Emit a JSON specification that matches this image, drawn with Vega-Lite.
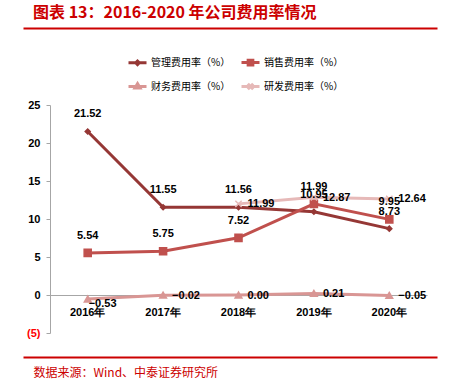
{
  "$schema": "https://vega.github.io/schema/vega-lite/v6.json",
  "background": "white",
  "padding": {"left": 23, "top": 4, "right": 18, "bottom": 4},
  "width": 414,
  "height": 228,
  "config": {
    "view": {"stroke": null},
    "font": "Liberation Sans Narrow, Liberation Sans"
  },
  "title": {"text": "图表 13：2016-2020 年公司费用率情况", "anchor": "start", "dx": 10, "offset": 4, "color": "#CC0000", "fontSize": 16, "font": "Noto Sans CJK SC", "fontWeight": "bold"},
  "data": {
    "values": [
      {"year": "2016年", "series": "管理费用率（%）", "value": 21.52},
      {"year": "2017年", "series": "管理费用率（%）", "value": 11.55},
      {"year": "2018年", "series": "管理费用率（%）", "value": 11.56},
      {"year": "2019年", "series": "管理费用率（%）", "value": 10.95},
      {"year": "2020年", "series": "管理费用率（%）", "value": 8.73},
      {"year": "2016年", "series": "销售费用率（%）", "value": 5.54},
      {"year": "2017年", "series": "销售费用率（%）", "value": 5.75},
      {"year": "2018年", "series": "销售费用率（%）", "value": 7.52},
      {"year": "2019年", "series": "销售费用率（%）", "value": 11.99},
      {"year": "2020年", "series": "销售费用率（%）", "value": 9.95},
      {"year": "2016年", "series": "财务费用率（%）", "value": -0.53},
      {"year": "2017年", "series": "财务费用率（%）", "value": -0.02},
      {"year": "2018年", "series": "财务费用率（%）", "value": 0.0},
      {"year": "2019年", "series": "财务费用率（%）", "value": 0.21},
      {"year": "2020年", "series": "财务费用率（%）", "value": -0.05},
      {"year": "2018年", "series": "研发费用率（%）", "value": 11.99},
      {"year": "2019年", "series": "研发费用率（%）", "value": 12.87},
      {"year": "2020年", "series": "研发费用率（%）", "value": 12.64}
    ]
  },
  "encoding": {
    "y": {
      "field": "value", "type": "quantitative",
      "scale": {"domain": [-5, 25], "nice": false},
      "axis": {"title": null, "values": [-5, 0, 5, 10, 15, 20, 25], "offset": -27, "tickSize": 4, "tickColor": "#A6A6A6", "domainColor": "#A6A6A6", "grid": false,
        "labelExpr": "datum.value < 0 ? '(' + abs(datum.value) + ')' : datum.label",
        "labelColor": {"condition": {"test": "datum.value < 0", "value": "#FF0000"}, "value": "#000000"},
        "labelFontSize": 11, "labelFontWeight": "bold", "labelPadding": 6}
    }
  },
  "resolve": {"scale": {"x": "independent"}, "axis": {"x": "independent"}},
  "layer": [
    {
      "mark": {"type": "line", "strokeWidth": 3},
      "encoding": {
        "x": {"field": "year", "type": "ordinal", "sort": null, "bandPosition": 0.5,
          "scale": {"type": "band", "domain": ["2016年", "2017年", "2018年", "2019年", "2020年"], "range": [27, 404], "paddingInner": 0, "paddingOuter": 0},
          "axis": {"title": null, "labelAngle": 0, "domainColor": "#A6A6A6", "ticks": false, "tickSize": 0, "labelFontSize": 11, "labelFontWeight": "bold", "labelColor": "#000000", "offset": -38, "labelPadding": 11}},
        "color": {
          "field": "series", "type": "nominal",
          "scale": {"domain": ["管理费用率（%）", "销售费用率（%）", "财务费用率（%）", "研发费用率（%）"], "range": ["#953735", "#C0504D", "#D99694", "#E6B9B8"]},
          "legend": {
            "title": null, "orient": "none", "legendX": 104, "legendY": -53, "columns": 2, "direction": "horizontal",
            "labelFontSize": 10, "labelFont": "Noto Sans CJK SC", "labelColor": "#000000", "symbolSize": 324, "labelOffset": 3, "columnPadding": 4, "rowPadding": 5,
            "encode": {
              "symbols": {
                "update": {
                  "shape": {"signal": "datum.value === '管理费用率（%）' ? 'M-1,0H1M0,-0.2L0.2,0L0,0.2L-0.2,0Z' : datum.value === '销售费用率（%）' ? 'M-1,0H1M-0.26,-0.26H0.26V0.26H-0.26Z' : datum.value === '财务费用率（%）' ? 'M-1,0H1M0,-0.32L0.28,0.16H-0.28Z' : 'M-1,0H1M-0.3,-0.3L0.3,0.3M0.3,-0.3L-0.3,0.3'"},
                  "fill": {"scale": "color", "field": "value"},
                  "stroke": {"scale": "color", "field": "value"},
                  "strokeWidth": {"value": 3}
                }
              }
            }
          }
        }
      }
    },
    {
      "mark": {"type": "point", "size": 0, "filled": true, "fillOpacity": 0, "strokeOpacity": 0},
      "encoding": {
        "x": {"field": "year", "type": "ordinal", "sort": null,
          "scale": {"type": "point", "domain": ["2016年", "2017年", "2018年", "2019年", "2020年"]},
          "axis": {"orient": "top", "offset": 77, "domain": true, "domainColor": "#CC0000", "domainWidth": 2, "labels": true, "labelOpacity": 0, "labelFontSize": 1, "labelPadding": 0, "ticks": false, "title": null}}
      }
    },
    {
      "mark": {"type": "point", "size": 0, "filled": true, "fillOpacity": 0, "strokeOpacity": 0},
      "encoding": {
        "x": {"field": "year", "type": "ordinal", "sort": null,
          "scale": {"type": "point", "domain": ["2016年", "2017年", "2018年", "2019年", "2020年"]},
          "axis": {"orient": "bottom", "offset": 24, "domain": true, "domainColor": "#CC0000", "domainWidth": 2, "labels": true, "labelOpacity": 0, "labelFontSize": 1, "labelPadding": 0, "ticks": false,
            "title": "数据来源：Wind、中泰证券研究所", "titleColor": "#CC0000", "titleFont": "Noto Sans CJK SC", "titleFontSize": 12, "titleFontWeight": "normal", "titleAnchor": "start", "titleAlign": "left", "titleX": 10, "titlePadding": 7}}
      }
    },
    {
      "transform": [{"filter": "datum.series === '管理费用率（%）'"}],
      "mark": {"type": "point", "shape": "diamond", "filled": true, "size": 25, "color": "#953735", "stroke": "#953735", "strokeWidth": 1.5, "opacity": 1},
      "encoding": {"x": {"field": "year", "type": "ordinal", "sort": null, "bandPosition": 0.5, "scale": {"type": "band", "domain": ["2016年", "2017年", "2018年", "2019年", "2020年"], "range": [27, 404], "paddingInner": 0, "paddingOuter": 0}, "axis": null}}
    },
    {
      "transform": [{"filter": "datum.series === '销售费用率（%）'"}],
      "mark": {"type": "point", "shape": "square", "filled": true, "size": 50, "color": "#C0504D", "stroke": "#C0504D", "strokeWidth": 1.5, "opacity": 1},
      "encoding": {"x": {"field": "year", "type": "ordinal", "sort": null, "bandPosition": 0.5, "scale": {"type": "band", "domain": ["2016年", "2017年", "2018年", "2019年", "2020年"], "range": [27, 404], "paddingInner": 0, "paddingOuter": 0}, "axis": null}}
    },
    {
      "transform": [{"filter": "datum.series === '财务费用率（%）'"}],
      "mark": {"type": "point", "shape": "triangle-up", "filled": true, "size": 45, "color": "#D99694", "stroke": "#D99694", "strokeWidth": 1.5, "opacity": 1},
      "encoding": {"x": {"field": "year", "type": "ordinal", "sort": null, "bandPosition": 0.5, "scale": {"type": "band", "domain": ["2016年", "2017年", "2018年", "2019年", "2020年"], "range": [27, 404], "paddingInner": 0, "paddingOuter": 0}, "axis": null}}
    },
    {
      "transform": [{"filter": "datum.series === '研发费用率（%）'"}],
      "mark": {"type": "point", "shape": "M-1,-1L1,1M1,-1L-1,1", "filled": false, "size": 40, "color": "#E6B9B8", "strokeWidth": 1.5, "opacity": 1},
      "encoding": {"x": {"field": "year", "type": "ordinal", "sort": null, "bandPosition": 0.5, "scale": {"type": "band", "domain": ["2016年", "2017年", "2018年", "2019年", "2020年"], "range": [27, 404], "paddingInner": 0, "paddingOuter": 0}, "axis": null}}
    },
    {
      "transform": [{"filter": "datum.series === '管理费用率（%）' || datum.series === '销售费用率（%）'"}],
      "mark": {"type": "text", "fontSize": 11, "fontWeight": "bold", "color": "#000000", "dy": -17, "align": "center", "baseline": "middle"},
      "encoding": {
        "x": {"field": "year", "type": "ordinal", "sort": null, "bandPosition": 0.5, "scale": {"type": "band", "domain": ["2016年", "2017年", "2018年", "2019年", "2020年"], "range": [27, 404], "paddingInner": 0, "paddingOuter": 0}, "axis": null},
        "text": {"field": "value", "type": "quantitative", "format": ".2f"}
      }
    },
    {
      "transform": [{"filter": "datum.series === '财务费用率（%）' && datum.year !== '2016年'"}],
      "mark": {"type": "text", "fontSize": 11, "fontWeight": "bold", "color": "#000000", "dx": 9, "dy": 1, "align": "left", "baseline": "middle"},
      "encoding": {
        "x": {"field": "year", "type": "ordinal", "sort": null, "bandPosition": 0.5, "scale": {"type": "band", "domain": ["2016年", "2017年", "2018年", "2019年", "2020年"], "range": [27, 404], "paddingInner": 0, "paddingOuter": 0}, "axis": null},
        "text": {"field": "value", "type": "quantitative", "format": ".2f"}
      }
    },
    {
      "transform": [{"filter": "datum.series === '财务费用率（%）' && datum.year === '2016年'"}],
      "mark": {"type": "text", "fontSize": 11, "fontWeight": "bold", "color": "#000000", "dx": 1, "dy": 5, "align": "left", "baseline": "middle"},
      "encoding": {
        "x": {"field": "year", "type": "ordinal", "sort": null, "bandPosition": 0.5, "scale": {"type": "band", "domain": ["2016年", "2017年", "2018年", "2019年", "2020年"], "range": [27, 404], "paddingInner": 0, "paddingOuter": 0}, "axis": null},
        "text": {"field": "value", "type": "quantitative", "format": ".2f"}
      }
    },
    {
      "transform": [{"filter": "datum.series === '研发费用率（%）'"}],
      "mark": {"type": "text", "fontSize": 11, "fontWeight": "bold", "color": "#000000", "dx": 9, "dy": 0.5, "align": "left", "baseline": "middle"},
      "encoding": {
        "x": {"field": "year", "type": "ordinal", "sort": null, "bandPosition": 0.5, "scale": {"type": "band", "domain": ["2016年", "2017年", "2018年", "2019年", "2020年"], "range": [27, 404], "paddingInner": 0, "paddingOuter": 0}, "axis": null},
        "text": {"field": "value", "type": "quantitative", "format": ".2f"}
      }
    }
  ]
}
